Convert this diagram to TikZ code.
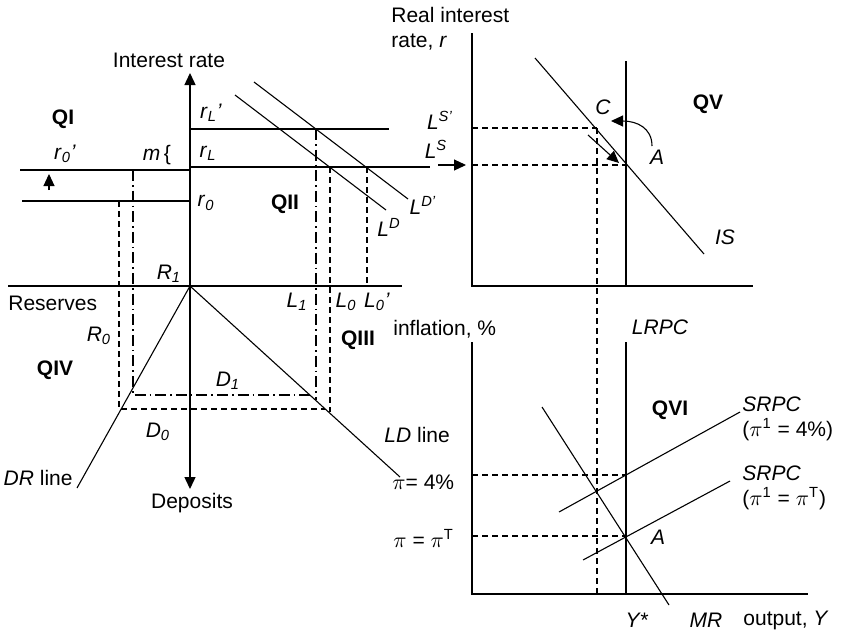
\documentclass[tikz,border=0pt]{standalone}
\usepackage{fontspec}
\setmainfont{Liberation Sans}
\usepackage{tikz}
\usetikzlibrary{arrows.meta, calc}

\newcommand{\ivar}[1]{\textit{#1}}
\newcommand{\isub}[2]{\textit{#1}\textsubscript{\textit{#2}}}
\newcommand{\isup}[2]{\textit{#1}\textsuperscript{\textit{#2}}}

\begin{document}
\begin{tikzpicture}[x=0.5pt, y=-0.5pt,
  every node/.style={font=\fontsize{10.5}{12.5}\selectfont, inner sep=0pt},
  ax/.style={line width=0.7pt},
  crv/.style={line width=0.55pt},
  dsh/.style={line width=0.55pt, dash pattern=on 3pt off 2pt},
  dshdot/.style={line width=0.55pt, dash pattern=on 5.5pt off 2pt on 0.8pt off 2pt},
  arr/.style={-{Triangle[length=6pt,width=5.5pt]}},
  quad/.style={font=\bfseries\fontsize{10.5}{12.5}\selectfont}
]
  \useasboundingbox (0,0) rectangle (849,632);

  % ---- left block: loan market, reserves, deposits ----
  \coordinate (O) at (190,286);
  \coordinate (ytop) at (190,73);
  \coordinate (ybot) at (190,489);
  \draw[ax, {Triangle[length=6pt,width=5.5pt]}-{Triangle[length=6pt,width=5.5pt]}] (ytop) -- (ybot);
  \draw[ax] (8,286) -- (402,286);

  % interest rate levels
  \draw[crv] (20,170) -- (190,170);
  \draw[crv] (22,201) -- (190,201);
  \draw[crv] (190,167) -- (430,167);
  \draw[crv] (190,129) -- (389,129);
  \draw[arr, crv] (49,190) -- (49,174);

  % loan demand curves
  \draw[crv] (235,95) -- (386,210);
  \draw[crv] (254,82) -- (408,199);

  % DR and LD lines
  \coordinate (drend) at (77,488);
  \coordinate (ldend) at (400,477);
  \draw[crv] (O) -- (drend);
  \draw[crv] (O) -- (ldend);

  % projections
  \draw[dshdot] (133,170) -- (133,395) -- (310,395);
  \draw[dshdot] (316,129) -- (316,400);
  \draw[dsh] (119,201) -- (119,409) -- (325,409);
  \draw[dsh] (330,167) -- (330,412);
  \draw[dsh] (367,167) -- (367,286);

  % arrow into the right block
  \draw[arr, crv] (438,165) -- (466,165);

  % ---- right top: IS ----
  \draw[ax] (472,33) -- (472,286) -- (753,286);
  \draw[crv] (626,61) -- (626,286);
  \draw[crv] (535,58) -- (704,254);
  \draw[dsh] (472,128) -- (597,128);
  \draw[dsh] (472,165) -- (626,165);
  \draw[dsh] (597,128) -- (597,594);
  \draw[arr, crv] (652,146) .. controls (652,128) and (637,121) .. (611,121);
  \draw[arr, crv] (588,135) -- (619,163);

  % ---- right bottom: Phillips curves ----
  \draw[ax] (472,342) -- (472,594) -- (808,594);
  \draw[crv] (626,342) -- (626,594);
  \draw[crv] (542,407) -- (669,605);
  \draw[crv] (559,512) -- (740,412);
  \draw[crv] (583,560) -- (730,481);
  \draw[dsh] (472,475) -- (626,475);
  \draw[dsh] (472,536) -- (626,536);

  % quadrant labels
  \foreach \n/\x/\y/\t in {qi/63/119/QI, qii/285/204/QII, qiii/358/340/QIII,
                           qiv/55/370/QIV, qv/708/104/QV, qvi/670/410/QVI}
    \node[quad] (\n) at (\x,\y) {\t};

  % axis texts
  \node (irate) at (169,60) {Interest rate};
  \node (dep) at (192,503) {Deposits};
  \node[anchor=west] (res) at (8,303) {Reserves};
  \node[anchor=west, align=left] (rr) at (391,28.5) {Real interest\\rate, \ivar{r}};
  \node[anchor=west] (infl) at (393,329) {inflation, \%};
  \node[anchor=west] (outp) at (743,620) {output, \ivar{Y}};

  % left block texts
  \node (r0p) at (65,154) {\isub{r}{0}\textit{'}};
  \node (mbr) at (157,155) {\ivar{m}\,\{};
  \node (rlp) at (211,113) {\isub{r}{L}\textit{'}};
  \node (rl) at (208,153) {\isub{r}{L}};
  \node (r0) at (206,203) {\isub{r}{0}};
  \node (ld) at (389,227) {\isup{L}{D}};
  \node (ldp) at (423,205) {\isup{L}{D'}};
  \node (lsp) at (440,120) {\isup{L}{S'}};
  \node (ls) at (436,149) {\isup{L}{S}};
  \node (r1) at (169,274) {\isub{R}{1}};
  \node (r0b) at (99,336) {\isub{R}{0}};
  \node (l1) at (297,302) {\isub{L}{1}};
  \node (l0) at (346,302) {\isub{L}{0}};
  \node (l0p) at (377,302) {\isub{L}{0}\textit{'}};
  \node (d1) at (228,381) {\isub{D}{1}};
  \node (d0) at (158,432) {\isub{D}{0}};
  \node[anchor=east] (drl) at (73,478) {\ivar{DR} line};
  \node[anchor=west] (ldl) at (384,435) {\ivar{LD} line};
  \node[anchor=west] (pi4) at (392,482) {$\pi$= 4\%};
  \node[anchor=west] (pit) at (393,538) {$\pi$ = $\pi$\textsuperscript{T}};

  % right block texts
  \node (c) at (603,107) {\ivar{C}};
  \node (a1) at (657,157) {\ivar{A}};
  \node (is) at (725,237) {\ivar{IS}};
  \node (lrpc) at (660,327) {\ivar{LRPC}};
  \node[anchor=west, align=left] (srpc1) at (742,419) {\ivar{SRPC}\\($\pi$\textsuperscript{1} = 4\%)};
  \node[anchor=west, align=left] (srpc2) at (742,488) {\ivar{SRPC}\\($\pi$\textsuperscript{1} = $\pi$\textsuperscript{T})};
  \node (a2) at (658,537) {\ivar{A}};
  \node (ystar) at (637,620) {\ivar{Y*}};
  \node (mr) at (706,620) {\ivar{MR}};
\end{tikzpicture}
\end{document}
